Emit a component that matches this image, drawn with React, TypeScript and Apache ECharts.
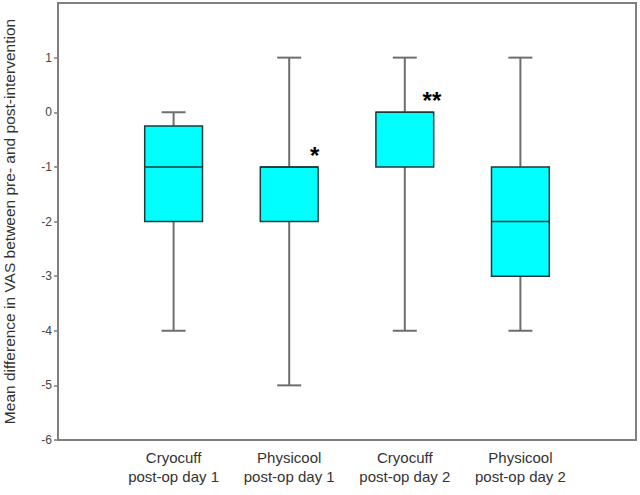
import React, { useEffect, useRef } from "react";
import * as echarts from "echarts";

const categories = ["Cryocuff\npost-op day 1", "Physicool\npost-op day 1", "Cryocuff\npost-op day 2", "Physicool\npost-op day 2"];
// [min, Q1, median, Q3, max]
const boxValues = [
  [-4, -2, -1, -0.25, 0],
  [-5, -2, -1, -1, 1],
  [-4, -1, 0, 0, 1],
  [-4, -3, -2, -1, 1],
];
const yTicks = [-6, -5, -4, -3, -2, -1, 0, 1];
// significance annotations: [x position (category index + 1), y value, text]
const annotations: [number, number, string][] = [
  [2.22, -0.8, "*"],
  [3.235, 0.22, "**"],
];

export default function App() {
  const ref = useRef<HTMLDivElement>(null);
  useEffect(() => {
    if (!ref.current) return;
    const chart = echarts.init(ref.current, null, { renderer: "svg" });
    const boxData = boxValues.map((v, i) => [i + 1, ...v]);
    chart.setOption({
      animation: false,
      grid: {
        left: 58,
        right: 4,
        top: 3,
        bottom: 55,
        outerBoundsMode: "none",
        containLabel: false,
        show: true,
        borderColor: "#7f7f7f",
        borderWidth: 2,
      },
      xAxis: {
        type: "value",
        min: 0,
        max: 5,
        interval: 1,
        splitLine: { show: false },
        axisTick: { show: false },
        axisLine: { show: true, onZero: false, lineStyle: { color: "#7f7f7f", width: 2 } },
        axisLabel: {
          color: "#333",
          fontSize: 15,
          fontFamily: "Liberation Sans, Arial, sans-serif",
          lineHeight: 19,
          margin: 8,
          formatter: (v: number) => (v >= 1 && v <= 4 ? categories[v - 1] : ""),
        },
      },
      yAxis: {
        type: "value",
        min: -6,
        max: 2,
        interval: 1,
        name: "Mean difference in VAS between pre- and post-intervention",
        nameLocation: "middle",
        nameGap: 41,
        nameTextStyle: {
          color: "#333",
          fontSize: 15.5,
          fontFamily: "Liberation Sans, Arial, sans-serif",
        },
        splitLine: { show: false },
        axisLine: { show: true, onZero: false, lineStyle: { color: "#7f7f7f", width: 2 } },
        axisTick: { show: true, length: 4, customValues: yTicks, lineStyle: { color: "#7f7f7f", width: 1.5 } },
        axisLabel: {
          color: "#444",
          fontSize: 12,
          fontFamily: "Liberation Sans, Arial, sans-serif",
          margin: 6,
          customValues: yTicks,
          formatter: (v: number) => (v === 2 ? "" : String(v)),
        },
      },
      series: [
        {
          type: "custom",
          data: boxData,
          encode: { x: 0, y: [1, 2, 3, 4, 5] },
          renderItem: (params: any, api: any) => {
            const x = api.value(0);
            const mn = api.coord([x, api.value(1)]);
            const q1 = api.coord([x, api.value(2)]);
            const md = api.coord([x, api.value(3)]);
            const q3 = api.coord([x, api.value(4)]);
            const mx = api.coord([x, api.value(5)]);
            const halfW = api.size([0.5, 0])[0] / 2;
            const capW = 12;
            const cx = mn[0];
            const whisker = { stroke: "#6e6e6e", lineWidth: 2 };
            return {
              type: "group",
              children: [
                { type: "line", shape: { x1: cx, y1: mn[1], x2: cx, y2: q1[1] }, style: whisker },
                { type: "line", shape: { x1: cx, y1: q3[1], x2: cx, y2: mx[1] }, style: whisker },
                { type: "line", shape: { x1: cx - capW, y1: mn[1], x2: cx + capW, y2: mn[1] }, style: whisker },
                { type: "line", shape: { x1: cx - capW, y1: mx[1], x2: cx + capW, y2: mx[1] }, style: whisker },
                {
                  type: "rect",
                  shape: { x: cx - halfW, y: q3[1], width: halfW * 2, height: q1[1] - q3[1] },
                  style: { fill: "#00ffff", stroke: "#1f3a3a", lineWidth: 1.5 },
                },
                { type: "line", shape: { x1: cx - halfW, y1: md[1], x2: cx + halfW, y2: md[1] }, style: { stroke: "#1f3a3a", lineWidth: 1.5 } },
              ],
            };
          },
        },
        {
          type: "custom",
          data: annotations,
          encode: { x: 0, y: 1 },
          renderItem: (params: any, api: any) => {
            const p = api.coord([api.value(0), api.value(1)]);
            const txt = annotations[params.dataIndex][2];
            return {
              type: "text",
              x: p[0],
              y: p[1],
              style: {
                text: txt,
                fill: "#000",
                font: "bold 24px Liberation Sans, Arial, sans-serif",
                align: "center",
                verticalAlign: "middle",
              },
            };
          },
        },
      ],
    });
    return () => chart.dispose();
  }, []);
  return <div ref={ref} style={{ position: "absolute", left: 0, top: 0, width: 640, height: 495 }} />;
}
